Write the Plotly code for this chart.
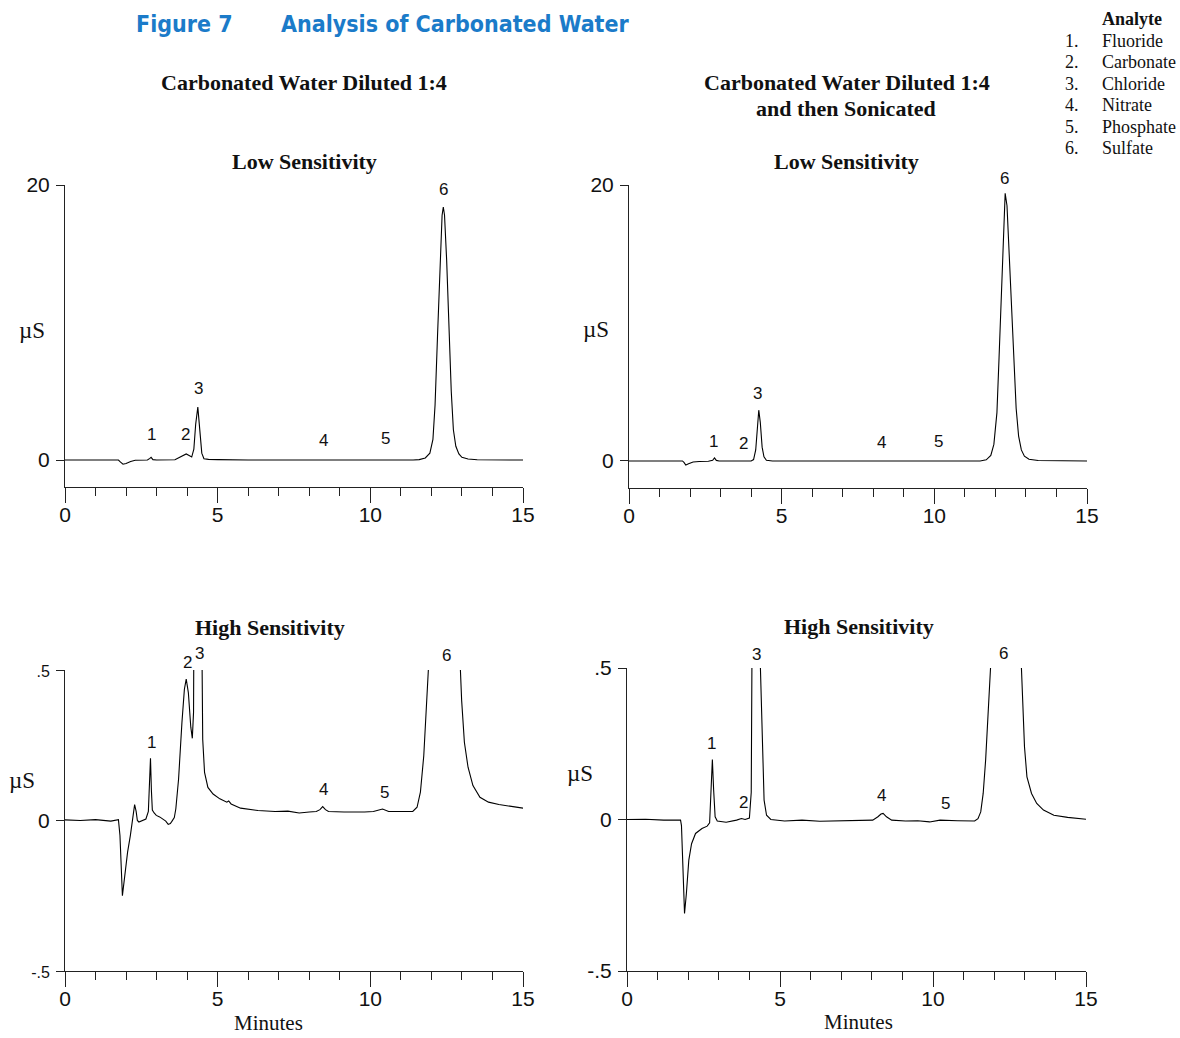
import plotly.graph_objects as go

W, H = 1180, 1038

# ---------------- data (time in minutes, signal in µS) ----------------
# Top-left: diluted 1:4, low sensitivity
tl_time = [0, 1.75, 1.82, 1.9, 2.0, 2.15, 2.3, 2.7, 2.78, 2.82, 2.88, 3.0, 3.6, 3.72, 3.85, 3.97, 4.05, 4.15,
           4.22, 4.28, 4.35, 4.42, 4.48, 4.55, 4.7, 5.0, 5.3, 5.4, 6.0, 11.4, 11.6, 11.8, 11.95, 12.05, 12.12,
           12.2, 12.28, 12.35, 12.39, 12.43, 12.5, 12.58, 12.65, 12.72, 12.8, 12.9, 13.0, 13.2, 13.5, 15]
tl_uS = [0, 0, -0.15, -0.3, -0.25, -0.1, -0.02, 0, 0.12, 0.2, 0.03, 0, 0.02, 0.15, 0.35, 0.44, 0.35, 0.22,
         0.8, 2.6, 3.85, 2.0, 0.5, 0.1, 0.05, 0.03, 0.01, 0.02, 0, 0, 0.03, 0.15, 0.5, 1.5, 4.0,
         9.0, 14.5, 17.8, 18.4, 17.8, 14.5, 9.5, 5.0, 2.2, 1.0, 0.45, 0.2, 0.07, 0.02, 0]

# Top-right: diluted 1:4 then sonicated, low sensitivity
tr_time = [0, 1.75, 1.8, 1.86, 1.95, 2.1, 2.3, 2.6, 2.74, 2.8, 2.86, 2.95, 4.0, 4.08, 4.15, 4.2, 4.25, 4.3,
           4.36, 4.42, 4.5, 4.7, 11.5, 11.7, 11.85, 11.95, 12.05, 12.12, 12.2, 12.26, 12.32, 12.38, 12.45,
           12.52, 12.6, 12.68, 12.76, 12.85, 12.95, 13.1, 13.4, 15]
tr_uS = [0, 0, -0.1, -0.29, -0.2, -0.08, -0.04, -0.02, 0.05, 0.22, 0.04, 0, 0, 0.1, 0.8, 2.6, 3.68, 2.8,
         1.0, 0.3, 0.05, 0, 0, 0.08, 0.4, 1.2, 3.5, 7.5, 12.5, 17.0, 19.4, 18.5, 15.0,
         11.0, 7.0, 3.8, 1.8, 0.8, 0.35, 0.12, 0.03, 0]

# Bottom-left: diluted 1:4, high sensitivity
bl_time = [0, 0.5, 1.0, 1.5, 1.75, 1.8, 1.88, 1.97, 2.05, 2.14, 2.22, 2.28, 2.33, 2.37, 2.42, 2.55, 2.65,
           2.73, 2.77, 2.8, 2.83, 2.86, 2.92, 2.99, 3.1, 3.21, 3.3, 3.38, 3.45, 3.5, 3.58, 3.63, 3.72, 3.83,
           3.91, 3.97, 4.04, 4.12, 4.17, 4.21, 4.25, 4.3, 4.35, 4.4, 4.45, 4.48, 4.51, 4.57, 4.68, 4.85,
           5.07, 5.3, 5.36, 5.44, 5.75, 6.32, 6.88, 7.3, 7.67, 8.0, 8.23, 8.35, 8.44, 8.53, 8.63, 9.14,
           9.5, 9.81, 10.1, 10.26, 10.4, 10.6, 11.0, 11.39, 11.53, 11.64, 11.75, 11.84, 11.9, 12.0, 12.1,
           12.2, 12.3, 12.39, 12.5, 12.6, 12.7, 12.8, 12.9, 12.95, 12.99, 13.08, 13.2, 13.36, 13.59, 13.87,
           14.21, 14.66, 15]
bl_uS = [0.002, 0.0, 0.003, -0.002, 0.003, -0.05, -0.25, -0.17, -0.105, -0.05, 0.01, 0.053, 0.03, 0.0,
         -0.005, 0.0, 0.005, 0.03, 0.12, 0.207, 0.1, 0.035, 0.025, 0.017, 0.012, 0.005, -0.002, -0.013,
         -0.01, -0.003, 0.01, 0.039, 0.138, 0.326, 0.436, 0.47, 0.425, 0.31, 0.273, 0.36, 0.6, 2.0, 3.8,
         2.5, 1.0, 0.5, 0.27, 0.16, 0.11, 0.088, 0.072, 0.061, 0.065, 0.055, 0.041, 0.033, 0.03, 0.031,
         0.025, 0.028, 0.03, 0.036, 0.046, 0.036, 0.03, 0.028, 0.027, 0.028, 0.03, 0.034, 0.038, 0.03,
         0.03, 0.03, 0.044, 0.094, 0.215, 0.38, 0.5, 1.5, 4.0, 9.0, 14.5, 18.4, 14.5, 9.5, 5.0, 2.2, 0.9,
         0.5, 0.4, 0.26, 0.177, 0.116, 0.077, 0.061, 0.053, 0.046, 0.041]

# Bottom-right: diluted 1:4 then sonicated, high sensitivity
br_time = [0, 0.6, 1.2, 1.75, 1.78, 1.83, 1.88, 1.94, 2.02, 2.11, 2.24, 2.45, 2.62, 2.7, 2.74, 2.79, 2.83,
           2.88, 2.95, 3.24, 3.58, 3.74, 3.86, 4.0, 4.06, 4.1, 4.15, 4.2, 4.25, 4.3, 4.36, 4.42, 4.48, 4.56,
           4.7, 5.15, 5.72, 6.3, 6.85, 7.3, 7.75, 8.03, 8.2, 8.3, 8.37, 8.48, 8.65, 9.1, 9.5, 9.89, 10.23,
           10.45, 10.8, 11.36, 11.47, 11.56, 11.64, 11.72, 11.81, 11.88, 11.95, 12.05, 12.12, 12.2, 12.26,
           12.32, 12.38, 12.45, 12.52, 12.6, 12.68, 12.76, 12.85, 12.89, 12.94, 12.99, 13.07, 13.22, 13.39,
           13.61, 13.95, 14.4, 15]
br_uS = [0, 0.001, -0.002, -0.002, -0.02, -0.18, -0.31, -0.245, -0.134, -0.08, -0.046, -0.03, -0.022,
         -0.011, 0.097, 0.198, 0.1, 0.009, -0.005, -0.009, -0.002, 0.003, 0.0, 0.005, 0.09, 0.5, 1.5, 3.0,
         3.68, 2.8, 0.5, 0.26, 0.064, 0.014, 0.0, -0.005, -0.002, -0.006, -0.005, -0.003, -0.004, -0.002,
         0.009, 0.018, 0.02, 0.009, -0.002, -0.005, -0.004, -0.008, -0.002, -0.002, -0.004, -0.005, 0.003,
         0.025, 0.086, 0.196, 0.373, 0.5, 1.2, 3.5, 7.5, 12.5, 17.0, 19.4, 18.5, 15.0, 11.0, 7.0, 3.8, 1.8,
         0.8, 0.5, 0.373, 0.24, 0.141, 0.086, 0.053, 0.031, 0.014, 0.007, 0.001]

x_ticks = [0, 5, 10, 15]
low_y_ticks = [0, 20]
high_y_ticks = [-0.5, 0, 0.5]
high_y_ticktext_left = ['<span style="font-size:16px">-.5</span>', '0', '<span style="font-size:16px">.5</span>']
high_y_ticktext_right = ['-.5', '0', '.5']

analyte_numbers = ["1.", "2.", "3.", "4.", "5.", "6."]
analyte_names = ["Fluoride", "Carbonate", "Chloride", "Nitrate", "Phosphate", "Sulfate"]
peak_labels = ["1", "2", "3", "4", "5", "6"]

for a, b in [(tl_time, tl_uS), (tr_time, tr_uS), (bl_time, bl_uS), (br_time, br_uS)]:
    assert len(a) == len(b)

# ---------------- layout helpers ----------------
def px(x):
    return x / W

def py(y):
    return 1 - y / H

SANS = "Liberation Sans, Arial, sans-serif"
SERIF = "Liberation Serif, Times New Roman, serif"
AX = "#222222"

fig = go.Figure()

panels = [
    (tl_time, tl_uS, "x", "y", (65, 523), (185, 487), [-1.96, 20], low_y_ticks, ["0", "20"]),
    (tr_time, tr_uS, "x2", "y2", (629, 1087), (185, 488), [-1.96, 20], low_y_ticks, ["0", "20"]),
    (bl_time, bl_uS, "x3", "y3", (65, 523), (670, 971), [-0.5, 0.5], high_y_ticks, high_y_ticktext_left),
    (br_time, br_uS, "x4", "y4", (627, 1086), (668, 971), [-0.5, 0.5], high_y_ticks, high_y_ticktext_right),
]

for i, (t, v, xa, ya, xd, yd, yr, ytv, ytt) in enumerate(panels):
    fig.add_trace(go.Scatter(x=t, y=v, mode="lines", xaxis=xa, yaxis=ya,
                             line=dict(color="black", width=1.1), showlegend=False,
                             hoverinfo="skip"))
    xkey = "xaxis" if i == 0 else f"xaxis{i+1}"
    ykey = "yaxis" if i == 0 else f"yaxis{i+1}"
    fig.layout[xkey] = dict(
        domain=[px(xd[0]), px(xd[1])], range=[0, 15], anchor=ya, automargin=False,
        showline=True, linecolor=AX, linewidth=1, showgrid=False, zeroline=False,
        tickmode="array", tickvals=x_ticks, ticktext=[str(k) for k in x_ticks],
        ticks="outside", ticklen=15, tickwidth=1, tickcolor=AX,
        tickfont=dict(family=SANS, size=21, color="#111"),
        ticklabelstandoff=-6,
        minor=dict(tickmode="linear", tick0=0, dtick=1, ticks="outside", ticklen=8,
                   tickwidth=1, tickcolor=AX, showgrid=False),
        fixedrange=True,
    )
    fig.layout[ykey] = dict(
        domain=[py(yd[1]), py(yd[0])], range=yr, anchor=xa, automargin=False,
        showline=True, linecolor=AX, linewidth=1, showgrid=False, zeroline=False,
        tickmode="array", tickvals=ytv, ticktext=ytt,
        ticks="outside", ticklen=8, tickwidth=1, tickcolor=AX,
        tickfont=dict(family=SANS, size=21, color="#111"),
        ticklabelstandoff=2,
        fixedrange=True,
    )

ann = []

def text(x, y, s, size, family, bold=False, color="#111", xanchor="center"):
    ann.append(dict(x=px(x), y=py(y), xref="paper", yref="paper", text=(f"<b>{s}</b>" if bold else s),
                    showarrow=False, xanchor=xanchor, yanchor="middle", borderpad=0,
                    font=dict(size=size, family=family, color=color)))

BLUE = "#1b7bc9"
TITLE_FONT = "Liberation Sans Narrow, DejaVu Sans Condensed, Arial Narrow, sans-serif"
text(135, 24, "Figure 7", 23, TITLE_FONT, bold=True, color=BLUE, xanchor="left")
text(280, 24, "Analysis of Carbonated Water", 23, TITLE_FONT, bold=True, color=BLUE, xanchor="left")

# analyte list
text(1101, 19, "Analyte", 18, SERIF, bold=True, xanchor="left")
for k, (num, name) in enumerate(zip(analyte_numbers, analyte_names)):
    yy = 41 + k * 21.4
    text(1064, yy, num, 18, SERIF, xanchor="left")
    text(1101, yy, name, 18, SERIF, xanchor="left")

# panel titles
text(304, 82, "Carbonated Water Diluted 1:4", 22, SERIF, bold=True)
text(847, 82, "Carbonated Water Diluted 1:4", 22, SERIF, bold=True)
text(846, 108, "and then Sonicated", 22, SERIF, bold=True)
text(304, 162, "Low Sensitivity", 22, SERIF, bold=True)
text(846, 162, "Low Sensitivity", 22, SERIF, bold=True)
text(270, 627, "High Sensitivity", 22, SERIF, bold=True)
text(859, 626, "High Sensitivity", 22, SERIF, bold=True)

# axis titles
for (x, y) in [(32, 330), (596, 329), (22, 780), (580, 773)]:
    text(x, y, "µS", 23, SERIF)
text(268, 1023, "Minutes", 21, SERIF)
text(858, 1022, "Minutes", 21, SERIF)

# peak labels (pixel positions)
peak_pos = {
    "tl": [(151, 435), (185, 434), (198, 389), (323, 440), (385, 439), (443, 189)],
    "tr": [(713, 441), (743, 443), (757, 393), (881, 442), (939, 441), (1005, 178)],
    "bl": [(151, 742), (187, 662), (199, 653), (323, 789), (384, 792), (446, 655)],
    "br": [(711, 743), (743, 802), (756, 654), (881, 795), (945, 803), (1003, 653)],
}
for key, pts in peak_pos.items():
    for lab, (x, y) in zip(peak_labels, pts):
        text(x, y, lab, 17, SANS)

fig.update_layout(
    width=W, height=H, autosize=False,
    margin=dict(l=0, r=0, t=0, b=0, autoexpand=False),
    paper_bgcolor="white", plot_bgcolor="white",
    annotations=ann, showlegend=False,
)

fig.write_html("out.html", config={"displayModeBar": False},
               post_script="document.body.style.margin='0';document.body.style.overflow='hidden';")
